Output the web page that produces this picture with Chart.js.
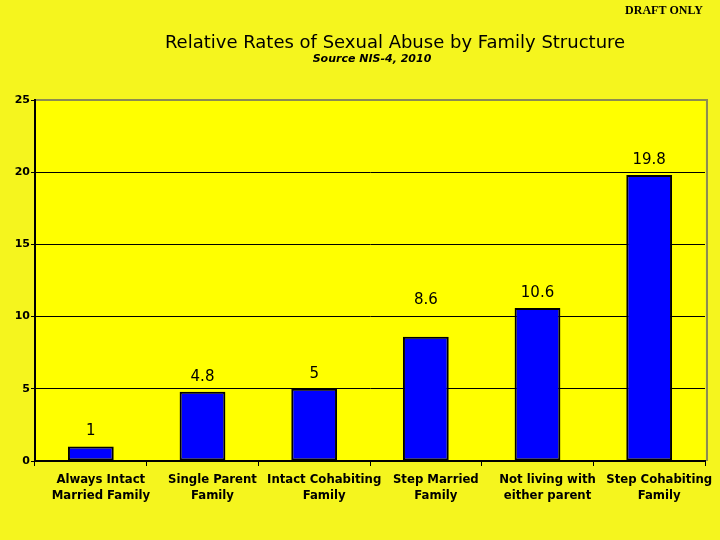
<!DOCTYPE html>
<html>
<head>
<meta charset="utf-8">
<script src="https://cdn.jsdelivr.net/npm/chart.js@4.4.0/dist/chart.umd.min.js"></script>
<style>
  html, body { margin: 0; padding: 0; background: #f5f51e; }
  #wrap { width: 720px; height: 540px; }
</style>
</head>
<body>
<div id="wrap"><canvas id="grafico"></canvas></div>
<script>
const categorias = [
    ['Always Intact', 'Married Family'],
    ['Single Parent', 'Family'],
    ['Intact Cohabiting', 'Family'],
    ['Step Married', 'Family'],
    ['Not living with', 'either parent'],
    ['Step Cohabiting', 'Family']
];
const valores = [1, 4.8, 5, 8.6, 10.6, 19.8];
const etiquetas = ['1', '4.8', '5', '8.6', '10.6', '19.8'];
const ticksY = [0, 5, 10, 15, 20, 25];

// how far above each bar top its value label sits (px)
const subirEtiqueta = [15, 15, 15, 37, 15, 15];

const fondoArea = {
    id: 'fondoArea',
    beforeDraw(chart) {
        const { ctx, chartArea: a } = chart;
        ctx.save();
        ctx.fillStyle = '#ffff00';
        ctx.fillRect(a.left, a.top, a.right - a.left, a.bottom - a.top);
        ctx.strokeStyle = '#8c8c50';
        ctx.lineWidth = 2;
        ctx.beginPath();
        ctx.moveTo(a.left, a.top);
        ctx.lineTo(a.right + 2, a.top);
        ctx.lineTo(a.right + 2, a.bottom);
        ctx.stroke();
        ctx.restore();
    }
};

const textos = {
    id: 'textos',
    afterDraw(chart) {
        const ctx = chart.ctx;
        ctx.save();
        ctx.fillStyle = '#000';
        ctx.textBaseline = 'middle';

        ctx.textAlign = 'right';
        ctx.font = 'bold 12px "Liberation Serif"';
        ctx.fillText('DRAFT ONLY', 703, 11);

        ctx.textAlign = 'center';
        ctx.font = '18px "DejaVu Sans"';
        ctx.fillText('Relative Rates of Sexual Abuse by Family Structure', 395, 43);
        ctx.font = 'italic bold 11px "DejaVu Sans"';
        ctx.fillText('Source NIS-4, 2010', 372, 59);

        ctx.font = '15px "DejaVu Sans"';
        chart.getDatasetMeta(0).data.forEach((bar, i) => {
            ctx.fillText(etiquetas[i], bar.x, bar.y - subirEtiqueta[i]);
        });
        ctx.restore();
    }
};

const config = {
    type: 'bar',
    data: {
        labels: categorias,
        datasets: [{
            data: valores,
            backgroundColor: '#0000ff',
            borderColor: '#000000',
            borderWidth: 2,
            borderSkipped: false,
            categoryPercentage: 1,
            barPercentage: 0.41
        }]
    },
    options: {
        responsive: true,
        maintainAspectRatio: false,
        animation: false,
        layout: { padding: { top: 100, right: 15, left: 0, bottom: 0 } },
        plugins: {
            legend: { display: false },
            tooltip: { enabled: false }
        },
        scales: {
            x: {
                afterFit: s => { s.height = 79; },
                grid: {
                    drawOnChartArea: false,
                    drawTicks: true,
                    tickLength: 5,
                    color: '#000'
                },
                border: { color: '#000', width: 2 },
                ticks: {
                    color: '#000',
                    font: { family: '"DejaVu Sans Condensed"', weight: 'bold', size: 13 },
                    labelOffset: 10,
                    padding: 6,
                    maxRotation: 0,
                    autoSkip: false
                }
            },
            y: {
                min: 0,
                max: 25,
                afterFit: s => { s.width = 35; },
                afterBuildTicks: s => { s.ticks = ticksY.map(v => ({ value: v })); },
                grid: {
                    color: c => (c.tick && c.tick.value === 25) ? '#8c8c50' : '#000',
                    lineWidth: 1,
                    tickLength: 4,
                    tickColor: '#000'
                },
                border: { color: '#000', width: 2 },
                ticks: {
                    color: '#000',
                    padding: 1,
                    font: { family: '"DejaVu Sans"', weight: 'bold', size: 11 }
                }
            }
        }
    },
    plugins: [fondoArea, textos]
};

const ctx = document.getElementById('grafico').getContext('2d');
new Chart(ctx, config);
</script>
</body>
</html>
